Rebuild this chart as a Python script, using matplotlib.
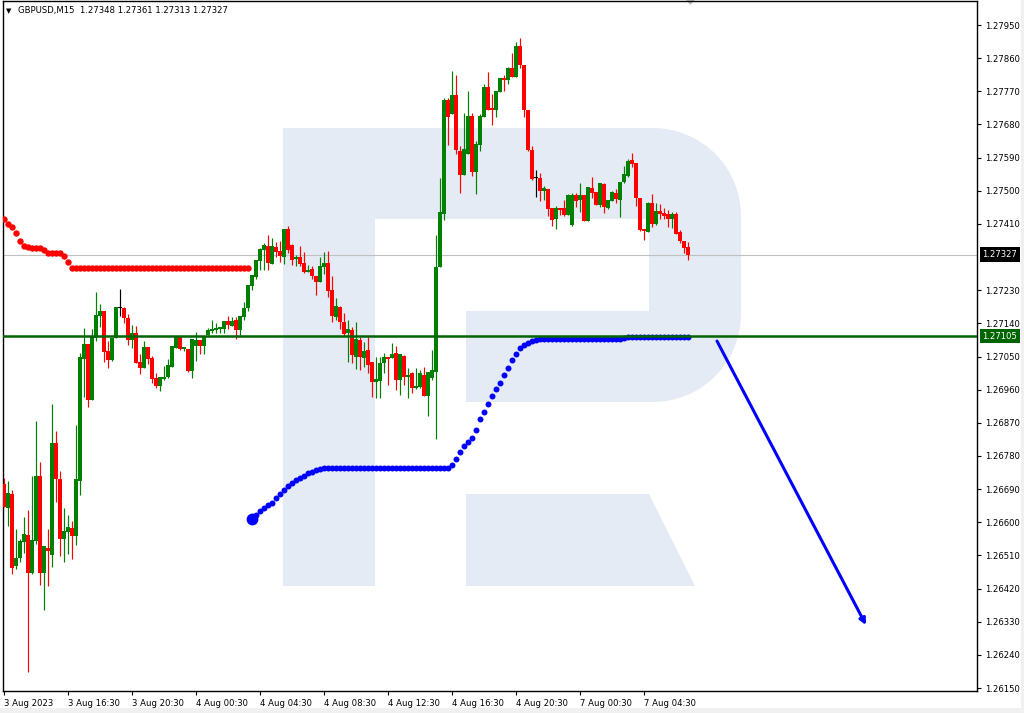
import numpy as np
import matplotlib
matplotlib.use("Agg")
import matplotlib.pyplot as plt
from matplotlib.patches import Rectangle, Polygon
from matplotlib.transforms import blended_transform_factory

W, H = 1024, 713

# GBPUSD M15, 3 Aug 2023 12:30 -> 7 Aug 2023 07:15 (172 bars)
opens = [
    1.26704, 1.26640, 1.26677, 1.26482, 1.26504, 1.26547, 1.26565, 1.26463, 1.26550, 1.26726,
    1.26463, 1.26530, 1.26512, 1.26815, 1.26717, 1.26554, 1.26574, 1.26585, 1.26564, 1.26713,
    1.27044, 1.27084, 1.26933, 1.27101, 1.27161, 1.27174, 1.27065, 1.27041, 1.27101, 1.27181,
    1.27183, 1.27155, 1.27095, 1.27113, 1.27035, 1.27020, 1.27076, 1.27046, 1.26992, 1.26971,
    1.26990, 1.26994, 1.27022, 1.27073, 1.27106, 1.27071, 1.27070, 1.27011, 1.27079, 1.27095,
    1.27079, 1.27108, 1.27120, 1.27122, 1.27126, 1.27125, 1.27147, 1.27134, 1.27149, 1.27122,
    1.27158, 1.27182, 1.27242, 1.27267, 1.27310, 1.27340, 1.27351, 1.27302, 1.27347, 1.27336,
    1.27321, 1.27396, 1.27353, 1.27315, 1.27321, 1.27305, 1.27280, 1.27288, 1.27270, 1.27252,
    1.27294, 1.27305, 1.27231, 1.27158, 1.27185, 1.27145, 1.27113, 1.27122, 1.27050, 1.27095,
    1.27045, 1.27068, 1.27034, 1.26982, 1.26984, 1.27032, 1.27048, 1.27045, 1.27059, 1.26986,
    1.27051, 1.26995, 1.27004, 1.26964, 1.26968, 1.27000, 1.26943, 1.26993, 1.27009, 1.27292,
    1.27436, 1.27747, 1.27708, 1.27760, 1.27608, 1.27543, 1.27601, 1.27704, 1.27552, 1.27624,
    1.27701, 1.27781, 1.27726, 1.27719, 1.27769, 1.27807, 1.27801, 1.27834, 1.27810, 1.27893,
    1.27842, 1.27719, 1.27611, 1.27534, 1.27534, 1.27500, 1.27505, 1.27452, 1.27423, 1.27452,
    1.27452, 1.27434, 1.27407, 1.27489, 1.27475, 1.27489, 1.27419, 1.27508, 1.27496, 1.27461,
    1.27518, 1.27454, 1.27473, 1.27495, 1.27475, 1.27523, 1.27540, 1.27584, 1.27575, 1.27480,
    1.27396, 1.27389, 1.27468, 1.27409, 1.27445, 1.27440, 1.27436, 1.27423, 1.27436, 1.27389,
    1.27365, 1.27348,
]
highs = [
    1.26719, 1.26712, 1.26688, 1.26582, 1.26554, 1.26614, 1.26633, 1.26726, 1.26875, 1.26764,
    1.26536, 1.26582, 1.26921, 1.26848, 1.26739, 1.26639, 1.26620, 1.26603, 1.26864, 1.27060,
    1.27127, 1.27084, 1.27124, 1.27225, 1.27193, 1.27174, 1.27092, 1.27099, 1.27185, 1.27233,
    1.27185, 1.27166, 1.27136, 1.27133, 1.27057, 1.27092, 1.27076, 1.27051, 1.27004, 1.26994,
    1.27024, 1.27043, 1.27078, 1.27106, 1.27106, 1.27076, 1.27070, 1.27097, 1.27116, 1.27095,
    1.27106, 1.27127, 1.27149, 1.27140, 1.27128, 1.27147, 1.27159, 1.27157, 1.27158, 1.27159,
    1.27199, 1.27244, 1.27271, 1.27312, 1.27345, 1.27357, 1.27380, 1.27371, 1.27361, 1.27365,
    1.27396, 1.27405, 1.27356, 1.27326, 1.27350, 1.27334, 1.27298, 1.27297, 1.27270, 1.27321,
    1.27334, 1.27337, 1.27270, 1.27210, 1.27187, 1.27167, 1.27149, 1.27131, 1.27144, 1.27104,
    1.27090, 1.27104, 1.27034, 1.27050, 1.27050, 1.27059, 1.27050, 1.27086, 1.27079, 1.27056,
    1.27054, 1.27018, 1.27009, 1.27018, 1.27013, 1.27022, 1.27009, 1.27068, 1.27380, 1.27534,
    1.27753, 1.27751, 1.27825, 1.27814, 1.27622, 1.27710, 1.27771, 1.27712, 1.27635, 1.27708,
    1.27789, 1.27823, 1.27763, 1.27771, 1.27807, 1.27814, 1.27836, 1.27873, 1.27905, 1.27914,
    1.27842, 1.27719, 1.27622, 1.27556, 1.27548, 1.27513, 1.27505, 1.27452, 1.27459, 1.27452,
    1.27475, 1.27490, 1.27493, 1.27493, 1.27520, 1.27489, 1.27511, 1.27538, 1.27496, 1.27522,
    1.27520, 1.27475, 1.27499, 1.27504, 1.27523, 1.27567, 1.27586, 1.27603, 1.27575, 1.27480,
    1.27396, 1.27470, 1.27490, 1.27466, 1.27464, 1.27452, 1.27448, 1.27443, 1.27443, 1.27394,
    1.27365, 1.27361,
]
lows = [
    1.26641, 1.26591, 1.26459, 1.26473, 1.26493, 1.26517, 1.26193, 1.26460, 1.26540, 1.26431,
    1.26362, 1.26428, 1.26479, 1.26656, 1.26509, 1.26493, 1.26515, 1.26501, 1.26539, 1.26674,
    1.26941, 1.26914, 1.26933, 1.27093, 1.27131, 1.27036, 1.27020, 1.27038, 1.27101, 1.27161,
    1.27142, 1.27081, 1.27074, 1.27033, 1.27003, 1.27020, 1.27031, 1.26979, 1.26965, 1.26957,
    1.26987, 1.26993, 1.27022, 1.27073, 1.27068, 1.27066, 1.27009, 1.26993, 1.27039, 1.27058,
    1.27058, 1.27108, 1.27113, 1.27115, 1.27113, 1.27113, 1.27125, 1.27134, 1.27097, 1.27108,
    1.27149, 1.27175, 1.27231, 1.27261, 1.27285, 1.27285, 1.27285, 1.27302, 1.27320, 1.27307,
    1.27302, 1.27332, 1.27298, 1.27296, 1.27296, 1.27276, 1.27280, 1.27260, 1.27217, 1.27252,
    1.27273, 1.27212, 1.27145, 1.27149, 1.27125, 1.27107, 1.27036, 1.27032, 1.27015, 1.27013,
    1.27022, 1.27005, 1.26941, 1.26937, 1.26937, 1.27005, 1.26973, 1.27045, 1.26959, 1.26946,
    1.26973, 1.26937, 1.26950, 1.26961, 1.26964, 1.26943, 1.26889, 1.26986, 1.26825, 1.27292,
    1.27421, 1.27624, 1.27708, 1.27600, 1.27495, 1.27543, 1.27601, 1.27541, 1.27491, 1.27609,
    1.27701, 1.27719, 1.27679, 1.27701, 1.27769, 1.27771, 1.27791, 1.27810, 1.27810, 1.27833,
    1.27701, 1.27609, 1.27529, 1.27484, 1.27473, 1.27475, 1.27432, 1.27404, 1.27396, 1.27434,
    1.27432, 1.27434, 1.27405, 1.27457, 1.27443, 1.27419, 1.27419, 1.27480, 1.27461, 1.27457,
    1.27440, 1.27451, 1.27472, 1.27466, 1.27430, 1.27522, 1.27538, 1.27565, 1.27460, 1.27391,
    1.27366, 1.27389, 1.27403, 1.27407, 1.27423, 1.27423, 1.27401, 1.27400, 1.27383, 1.27359,
    1.27330, 1.27313,
]
closes = [
    1.26642, 1.26679, 1.26477, 1.26503, 1.26549, 1.26568, 1.26463, 1.26552, 1.26726, 1.26463,
    1.26536, 1.26523, 1.26815, 1.26717, 1.26554, 1.26576, 1.26587, 1.26564, 1.26718, 1.27049,
    1.27084, 1.26933, 1.27104, 1.27163, 1.27174, 1.27063, 1.27041, 1.27099, 1.27185, 1.27181,
    1.27155, 1.27095, 1.27113, 1.27033, 1.27020, 1.27076, 1.27042, 1.26990, 1.26971, 1.26994,
    1.26994, 1.27027, 1.27078, 1.27106, 1.27070, 1.27076, 1.27011, 1.27097, 1.27095, 1.27079,
    1.27106, 1.27122, 1.27125, 1.27128, 1.27128, 1.27147, 1.27136, 1.27147, 1.27122, 1.27159,
    1.27182, 1.27244, 1.27271, 1.27312, 1.27342, 1.27353, 1.27304, 1.27351, 1.27334, 1.27324,
    1.27396, 1.27339, 1.27312, 1.27321, 1.27302, 1.27279, 1.27285, 1.27269, 1.27252, 1.27296,
    1.27305, 1.27229, 1.27161, 1.27187, 1.27145, 1.27111, 1.27125, 1.27054, 1.27098, 1.27048,
    1.27066, 1.27027, 1.26982, 1.26988, 1.27032, 1.27048, 1.27044, 1.27057, 1.26986, 1.27056,
    1.26995, 1.27000, 1.26964, 1.26970, 1.27004, 1.26943, 1.27009, 1.27013, 1.27292, 1.27443,
    1.27747, 1.27701, 1.27760, 1.27611, 1.27543, 1.27614, 1.27704, 1.27550, 1.27628, 1.27704,
    1.27781, 1.27719, 1.27719, 1.27771, 1.27805, 1.27801, 1.27834, 1.27810, 1.27893, 1.27842,
    1.27719, 1.27611, 1.27532, 1.27534, 1.27500, 1.27508, 1.27451, 1.27421, 1.27452, 1.27448,
    1.27434, 1.27489, 1.27489, 1.27473, 1.27489, 1.27419, 1.27511, 1.27493, 1.27461, 1.27520,
    1.27457, 1.27475, 1.27498, 1.27477, 1.27523, 1.27546, 1.27581, 1.27573, 1.27480, 1.27394,
    1.27391, 1.27468, 1.27409, 1.27445, 1.27437, 1.27432, 1.27423, 1.27436, 1.27383, 1.27365,
    1.27344, 1.27327,
]

# indicator dots (red: bars 0..61, blue: bars 62..171)
red_dots = [
    1.27423, 1.27410, 1.27403, 1.27385, 1.27365, 1.27351, 1.27348, 1.27346, 1.27346, 1.27346,
    1.27339, 1.27330, 1.27330, 1.27330, 1.27330, 1.27323, 1.27306, 1.27291, 1.27291, 1.27291,
    1.27291, 1.27291, 1.27291, 1.27291, 1.27291, 1.27291, 1.27291, 1.27291, 1.27291, 1.27291,
    1.27291, 1.27291, 1.27291, 1.27291, 1.27291, 1.27291, 1.27291, 1.27291, 1.27291, 1.27291,
    1.27291, 1.27291, 1.27291, 1.27291, 1.27291, 1.27291, 1.27291, 1.27291, 1.27291, 1.27291,
    1.27291, 1.27291, 1.27291, 1.27291, 1.27291, 1.27291, 1.27291, 1.27291, 1.27291, 1.27291,
    1.27291, 1.27291,
]
blue_start = 62
blue_dots = [
    1.26608, 1.26620, 1.26631, 1.26639, 1.26646, 1.26652, 1.26665, 1.26677, 1.26688, 1.26699,
    1.26707, 1.26715, 1.26721, 1.26727, 1.26733, 1.26737, 1.26742, 1.26745, 1.26747, 1.26747,
    1.26747, 1.26747, 1.26747, 1.26747, 1.26747, 1.26747, 1.26747, 1.26747, 1.26747, 1.26747,
    1.26747, 1.26747, 1.26747, 1.26747, 1.26747, 1.26747, 1.26747, 1.26747, 1.26747, 1.26747,
    1.26747, 1.26747, 1.26747, 1.26747, 1.26747, 1.26747, 1.26747, 1.26747, 1.26747, 1.26747,
    1.26755, 1.26772, 1.26791, 1.26807, 1.26818, 1.26829, 1.26850, 1.26880, 1.26899, 1.26921,
    1.26943, 1.26962, 1.26978, 1.27000, 1.27019, 1.27041, 1.27057, 1.27072, 1.27080, 1.27087,
    1.27091, 1.27095, 1.27097, 1.27097, 1.27097, 1.27097, 1.27097, 1.27097, 1.27097, 1.27097,
    1.27097, 1.27097, 1.27097, 1.27097, 1.27097, 1.27097, 1.27097, 1.27097, 1.27097, 1.27097,
    1.27097, 1.27097, 1.27097, 1.27100, 1.27104, 1.27104, 1.27104, 1.27104, 1.27104, 1.27104,
    1.27104, 1.27104, 1.27104, 1.27104, 1.27104, 1.27104, 1.27104, 1.27104, 1.27104, 1.27104,
]

support_level = 1.27105
last_price = 1.27327
arrow_from = (178.25, 1.27092)
arrow_to = (215.5, 1.26321)

title = "GBPUSD,M15  1.27348 1.27361 1.27313 1.27327"
# 1.27320 sits under the last-price tag, so it is not listed
price_ticks = [
    1.27950, 1.27860, 1.27770, 1.27680, 1.27590, 1.27500, 1.27410, 1.27230,
    1.27140, 1.27050, 1.26960, 1.26870, 1.26780, 1.26690, 1.26600, 1.26510, 1.26420,
    1.26330, 1.26240, 1.26150,
]
time_labels = [
    "3 Aug 2023", "3 Aug 16:30", "3 Aug 20:30", "4 Aug 00:30", "4 Aug 04:30",
    "4 Aug 08:30", "4 Aug 12:30", "4 Aug 16:30", "4 Aug 20:30", "7 Aug 00:30",
    "7 Aug 04:30",
]
bars_per_label = 16

GREEN = "#008000"
RED = "#ff0000"
FS = 6.1

fig = plt.figure(figsize=(W / 100, H / 100), dpi=100, facecolor="#f0f0f0")

# background layer in pixel units: white page + watermark logo
bg = fig.add_axes([0, 0, 1, 1], zorder=0)
bg.set_xlim(0, W)
bg.set_ylim(H, 0)
bg.axis("off")
bg.add_patch(Rectangle((0, 0), 1021, 708, fc="white", ec="none"))

wm = "#e5ebf4"
t = np.linspace(0, np.pi / 2, 20)
arc_top = [(653 + 88 * np.sin(a), 216 - 88 * np.cos(a)) for a in t]
arc_bot = [(653 + 88 * np.cos(a), 314 + 88 * np.sin(a)) for a in t]
outer = ([(283, 128)] + arc_top + arc_bot +
         [(466, 402), (466, 311), (649, 311), (649, 219), (375, 219), (375, 586), (283, 586)])
bg.add_patch(Polygon(outer, closed=True, fc=wm, ec="none"))
bg.add_patch(Polygon([(466, 494), (649, 494), (695, 586), (466, 586)], closed=True, fc=wm, ec="none"))
bg.add_patch(Polygon([(686, 0), (695, 0), (690.5, 5)], closed=True, fc="#c0c0c0", ec="none"))

# main chart
ax = fig.add_axes([2.5 / W, 1 - 690.5 / H, 974 / W, 689.5 / H], zorder=1)
ax.set_facecolor("none")
ax.set_xlim(-0.375, 243.125)
ax.set_ylim(1.261433, 1.280153)

o = np.array(opens)
h = np.array(highs)
l = np.array(lows)
c = np.array(closes)
x = np.arange(len(c))
colors = np.where(c > o, GREEN, np.where(c < o, RED, "black"))

ax.vlines(x, l, h, colors=colors, lw=0.85, zorder=3)
body_lo = np.minimum(o, c)
body_h = np.maximum(np.abs(c - o), 3e-5)
ax.bar(x, body_h, bottom=body_lo, width=0.78, color=colors, linewidth=0, zorder=3.5)

ax.axhline(last_price, color="#c0c0c0", lw=0.8, zorder=2)
ax.axhline(support_level, color="#006400", lw=1.8, zorder=5)

ax.plot(np.arange(len(red_dots)), red_dots, "o", color=RED, ms=4.6, mew=0, zorder=4)
xb = blue_start + np.arange(len(blue_dots))
ax.plot(xb, blue_dots, "o", color="#0000ff", ms=4.3, mew=0, zorder=4)
ax.plot(xb[0], blue_dots[0], "o", color="#0000ff", ms=8.5, mew=0, zorder=4)

ax.annotate("", xy=arrow_to, xytext=arrow_from, zorder=6,
            arrowprops=dict(arrowstyle="-|>", color="#0000ff", lw=2.2,
                            mutation_scale=9, shrinkA=0, shrinkB=0))

# axes / ticks
for s in ax.spines.values():
    s.set_color("black")
    s.set_linewidth(1.0)
ax.yaxis.tick_right()
ax.set_yticks(price_ticks)
ax.set_yticklabels([f"{p:.5f}" for p in price_ticks])
ax.tick_params(axis="y", direction="out", length=3, width=0.8, pad=3, labelsize=FS)
ax.set_xticks(np.arange(len(time_labels)) * bars_per_label)
ax.set_xticklabels(time_labels)
ax.tick_params(axis="x", direction="out", length=3, width=0.8, pad=3, labelsize=FS)
for lbl in ax.get_xticklabels():
    lbl.set_ha("left")

# price tags on the right scale
tr = blended_transform_factory(ax.transAxes, ax.transData)
for price, col in [(last_price, "black"), (support_level, "#006400")]:
    ax.text(1.006, price, f"{price:.5f}", transform=tr, ha="left", va="center",
            color="white", fontsize=FS, clip_on=False, zorder=7,
            bbox=dict(boxstyle="square,pad=0.3", fc=col, ec="none"))

fig.text(6 / W, 1 - 11 / H, "\u25bc", fontsize=5, ha="left", va="center")
fig.text(18 / W, 1 - 11 / H, title, fontsize=FS, ha="left", va="center")

fig.savefig("out.png", dpi=100, facecolor=fig.get_facecolor())
